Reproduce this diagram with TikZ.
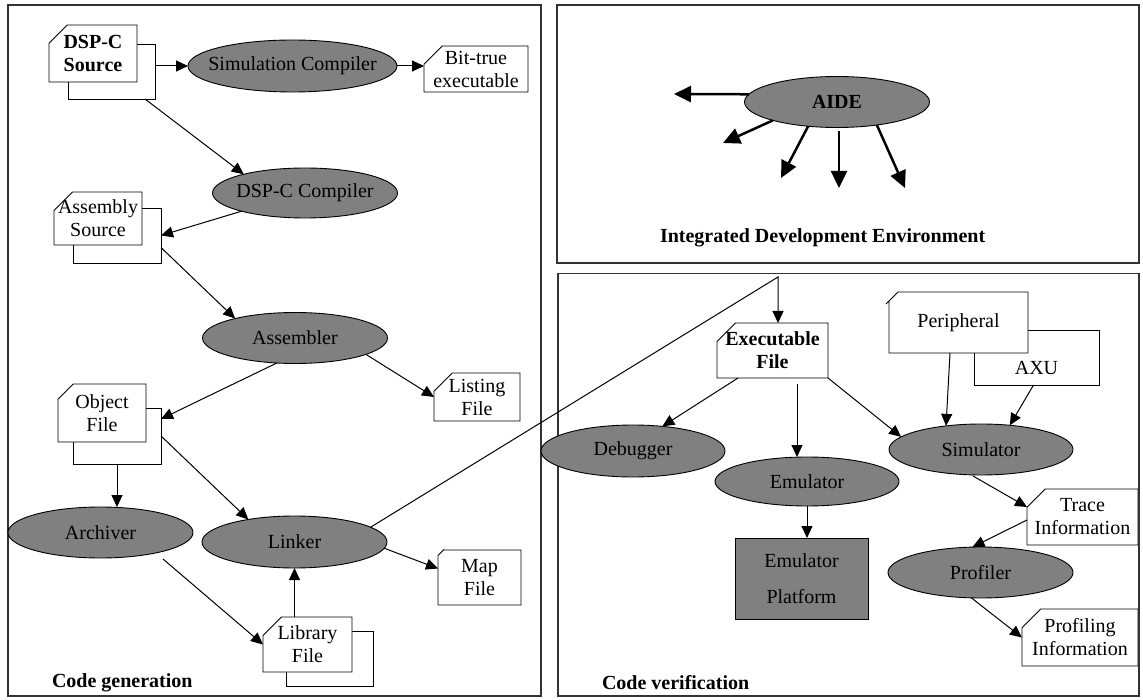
\documentclass[tikz,border=0pt]{standalone}
\usepackage{fontspec}
\setmainfont{Liberation Serif}
\usetikzlibrary{shapes.geometric,shapes.misc,arrows.meta,calc}
\definecolor{procgray}{HTML}{808080}
\definecolor{framegray}{HTML}{333333}
\newcommand\dgfont{\fontsize{20}{23}\selectfont}
\newcommand\dgbold{\fontsize{20}{23}\selectfont\bfseries}

\begin{document}
\begin{tikzpicture}[x=1pt,y=-1pt,
  every node/.style={font=\dgfont, inner sep=0pt, outer sep=0pt},
  panel/.style={draw=framegray, line width=1.2pt},
  proc/.style={ellipse, draw, line width=0.9pt, fill=procgray,
    minimum width=185pt, minimum height=51pt},
  sheet/.style={rectangle, draw, line width=0.9pt, fill=white},
  % document with a clipped top-left corner; the chamfer does not widen the box
  note/.style 2 args={chamfered rectangle, chamfered rectangle corners=north west,
    chamfered rectangle xsep=#1, chamfered rectangle ysep=#2,
    inner xsep=-#1, inner ysep=-#2,
    draw, line width=0.9pt, fill=white, align=center},
  link/.style={line width=1pt, -{Triangle[length=12pt,width=11pt]}},
  ray/.style={line width=2.5pt, -{Triangle[length=17pt,width=16pt]}},
]
\useasboundingbox (0,0) rectangle (1143,700);

% panels
\draw[panel] (8,5) rectangle (541,696);
\draw[panel] (557,5) rectangle (1139,263);
\draw[panel] (558,273.5) rectangle (1139,696);

% ---- code generation ----
\node[sheet, minimum width=87pt, minimum height=55pt] (srcB) at (111.5,71.5) {};
\node[note={13pt}{12pt}, minimum width=88pt, minimum height=57pt, font=\dgbold]
  (src) at (93,53.5) {DSP-C\\Source};
\node[proc, minimum width=209pt, minimum height=52pt] (simc) at (292.5,66)
  {\makebox[0pt]{Simulation Compiler}};
\node[note={20pt}{7pt}, minimum width=104pt, minimum height=46pt]
  (bit) at (476,69) {Bit-true\\executable};
\node[proc, minimum height=50pt] (dspc) at (305,193) {\makebox[0pt]{DSP-C Compiler}};
\node[sheet, minimum width=88pt, minimum height=55pt] (asmB) at (117,235.5) {};
\node[note={16pt}{11pt}, minimum width=88pt, minimum height=53pt]
  (asm) at (98,218.5) {Assembly\\Source};
\node[proc] (asmr) at (295,338) {Assembler};
\node[note={16pt}{10pt}, minimum width=86pt, minimum height=48pt]
  (lst) at (477,397) {Listing\\File};
\node[sheet, minimum width=88pt, minimum height=56pt] (objB) at (117,436) {};
\node[note={18pt}{12pt}, minimum width=88pt, minimum height=58pt]
  (obj) at (102,413) {Object\\File};
\node[proc] (arch) at (100.5,532.5) {Archiver};
\node[proc, minimum height=52pt] (lnk) at (294.5,542) {Linker};
\node[sheet, minimum width=87pt, minimum height=55pt] (libB) at (329.5,658.5) {};
\node[note={16pt}{11pt}, minimum width=89pt, minimum height=55pt]
  (lib) at (307.5,644.5) {Library\\File};
\node[note={19pt}{12pt}, minimum width=83pt, minimum height=55pt]
  (map) at (479.5,577.5) {Map\\File};

% ---- IDE ----
\node[proc, font=\dgbold] (aide) at (837,102) {AIDE};

% ---- code verification ----
\node[note={23pt}{9pt}, minimum width=111pt, minimum height=55pt, font=\dgbold]
  (exe) at (772.5,350.5) {Executable\\File};
\node[proc, minimum width=184pt, minimum height=52pt] (dbg) at (633,451) {Debugger};
\node[proc, minimum width=184pt, minimum height=49pt] (emu) at (807,481.5) {Emulator};
\node[draw, fill=procgray, line width=0.9pt, minimum width=133pt, minimum height=81pt,
  align=center] (plat) at (801.5,578.5) {Emulator\\[13pt]Platform};
\node[sheet, minimum width=125pt, minimum height=55pt, text height=34pt, text depth=0pt]
  (axu) at (1036.5,357.5) {AXU};
\node[note={26pt}{12pt}, minimum width=139pt, minimum height=61pt]
  (per) at (958.5,322.5) {Peripheral};
\node[proc, minimum width=184pt] (sim) at (981,449.5) {Simulator};
\node[note={22pt}{12pt}, minimum width=111pt, minimum height=56pt]
  (trc) at (1082.5,517) {Trace\\Information};
\node[proc] (prof) at (980.5,572.5) {Profiler};
\node[note={27pt}{13pt}, minimum width=116pt, minimum height=57pt]
  (pinf) at (1080,637.5) {Profiling\\Information};

% panel captions
\node[anchor=west, font=\dgbold] (lgen) at (52,683) {Code generation};
\node[anchor=west, font=\dgbold] (lver) at (602,683) {Code verification};
\node[anchor=west, font=\dgbold] (lide) at (660,238) {Integrated Development Environment};

% free ends and bends
\coordinate (bend) at (778,277);
\coordinate (e1) at ($(exe.south)+(24.5,6)$);
\coordinate (a1) at (674,94);
\coordinate (a2) at (723,143);
\coordinate (a3) at (781,178);
\coordinate (a4) at (839,188);
\coordinate (a5) at (905,188);

% code generation flow
\draw[link] (srcB.east |- simc.west) -- (simc.west);
\draw[link] (simc.east) -- (simc.east -| bit.west);
\draw[link] ($(srcB.south east)+(-10,0)$) -- (dspc.163);
\draw[link] (dspc.196) -- (asmB.east);
\draw[link] ($(asmB.east)+(0,12)$) -- (asmr.162);
\draw[link] (asmr.-13) -- (lst.west);
\draw[link] (asmr.234) -- ($(objB.north east)+(0,11)$);
\draw[link] (objB.south) -- (objB.south |- arch.north);
\draw[link] (objB.east) -- (lnk.154);
\draw[link] ($(arch.south)+(62.5,1)$) -- (lib.west);
\draw[link] (lnk.south |- lib.north) -- (lnk.south);
\draw[link] (lnk.-4) -- ($(map.west)+(0,-9)$);
\draw[link] (lnk.11) -- (bend) -- (bend |- exe.north);

% code verification flow
\draw[link] ($(exe.south west)+(21,0)$) -- (dbg.40);
\draw[link] (e1) -- (e1 |- emu.north);
\draw[link] (emu.south) -- (emu.south |- plat.north);
\draw[link] (exe.south east) -- (sim.171);
\draw[link] ($(per.south)+(-8.5,0)$) -- (sim.146);
\draw[link] ($(axu.south)+(-3,0)$) -- (sim.40);
\draw[link] ($(sim.south)+(-8,1)$) -- ($(trc.west)+(0,-10)$);
\draw[link] ($(trc.west)+(0,3)$) -- ($(prof.north)+(-8,0)$);
\draw[link] ($(prof.south)+(-9,0)$) -- (pinf.west);

% IDE fan-out
\draw[ray] (aide.175) -- (a1);
\draw[ray] (aide.196) -- (a2);
\draw[ray] (aide.220) -- (a3);
\draw[ray] ($(aide.south)+(2,4)$) -- (a4);
\draw[ray] (aide.-30) -- (a5);
\end{tikzpicture}
\end{document}
